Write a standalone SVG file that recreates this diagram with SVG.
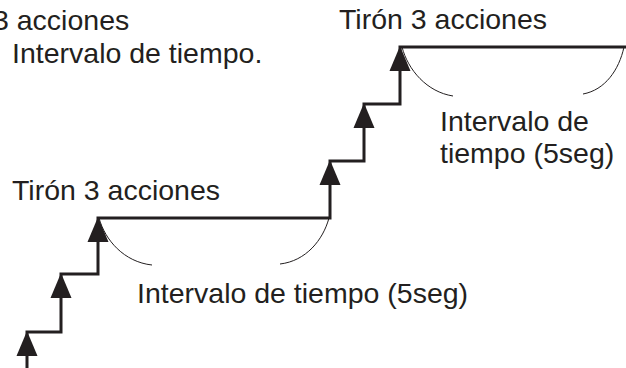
<svg xmlns="http://www.w3.org/2000/svg" width="626" height="368" viewBox="0 0 626 368">
<defs>
<style>
.t{font-family:"Liberation Sans",Arial,sans-serif;font-size:28.5px;fill:#231f20}
.step{fill:none;stroke:#231f20;stroke-width:3;stroke-linejoin:miter}
.arc{fill:none;stroke:#231f20;stroke-width:1}
.ah{fill:#231f20}
</style>
<path id="arrow" class="ah" d="M0,0 L10.5,25 L-10.5,25 Z"/>
</defs>
<rect width="626" height="368" fill="#ffffff"/>
<g id="connectors">
<path class="step" d="M27,368 V332 H61 V274 H98 V218 H330 V161 H364 V104 H400 V47 H626"/>
<use href="#arrow" x="27" y="331"/>
<use href="#arrow" x="61" y="273"/>
<use href="#arrow" x="98" y="217"/>
<use href="#arrow" x="330" y="160"/>
<use href="#arrow" x="364" y="103"/>
<use href="#arrow" x="400" y="46"/>
<path class="arc" d="M99,218 C105,240 124,262 152,265"/>
<path class="arc" d="M329,218 C323,240 306,261 280,264"/>
<path class="arc" d="M402,47 C408,70 427,92 453,96"/>
<path class="arc" d="M624,47 C619,70 605,90 583,94"/>
</g>
<g id="label-top-left">
<text class="t" x="-7" y="30">3 acciones</text>
<text class="t" x="12" y="63">Intervalo de tiempo.</text>
</g>
<g id="label-top-right">
<text class="t" x="339" y="29">Tirón 3 acciones</text>
<text class="t" x="440" y="131">Intervalo de</text>
<text class="t" x="440" y="163">tiempo (5seg)</text>
</g>
<g id="label-bottom">
<text class="t" x="12" y="200">Tirón 3 acciones</text>
<text class="t" x="137" y="303">Intervalo de tiempo (5seg)</text>
</g>
</svg>
